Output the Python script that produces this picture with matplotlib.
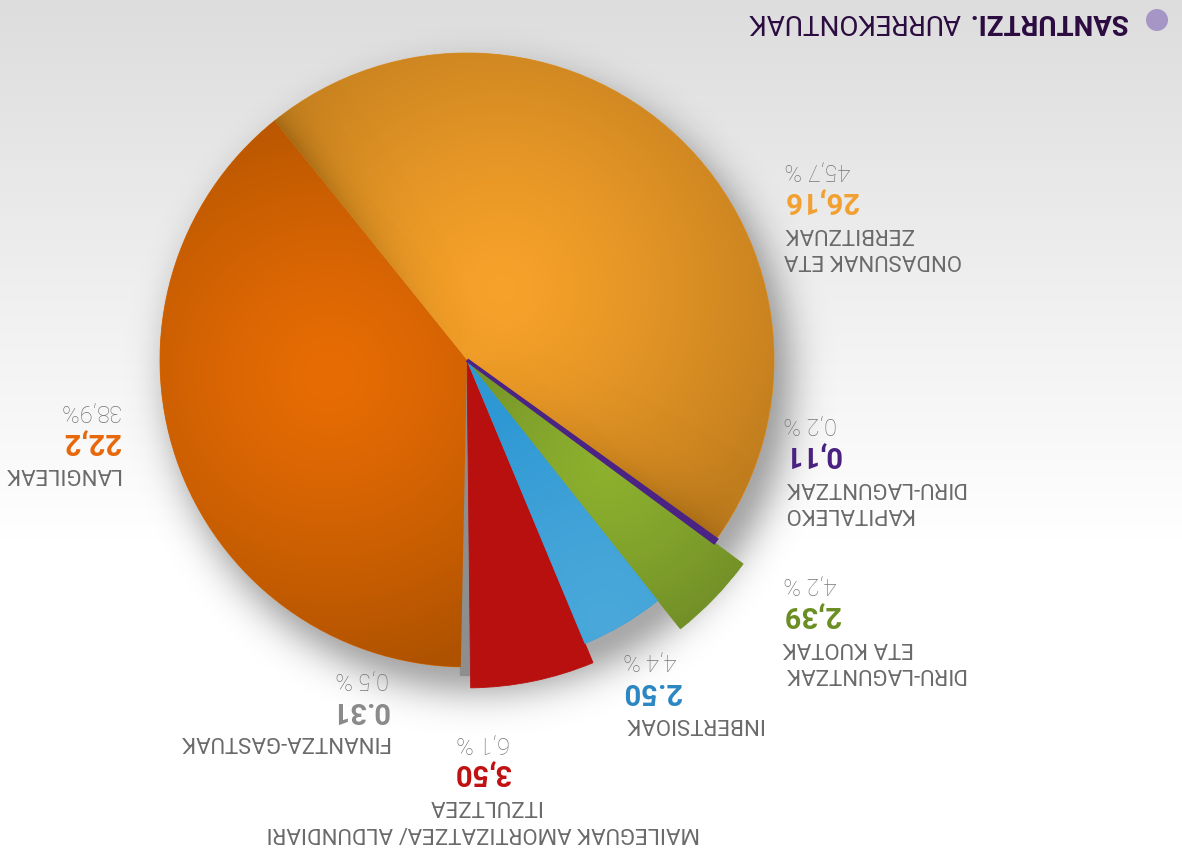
import numpy as np
import matplotlib
matplotlib.use("Agg")
import matplotlib.pyplot as plt
from matplotlib.patches import Circle

# ---------------- data ----------------
categories = ["LANGILEAK",
              "FINANTZA-GASTUAK",
              "MAILEGUAK AMORTIZATZEA/ ALDUNDIARI\nITZULTZEA",
              "INBERTSIOAK",
              "DIRU-LAGUNTZAK\nETA KUOTAK",
              "KAPITALEKO\nDIRU-LAGUNTZAK",
              "ONDASUNAK ETA\nZERBITZUAK"]
amounts = ["22,2", "0.31", "3,50", "2.50", "2,39", "0,11", "26,16"]
percents = [38.9, 0.5, 6.1, 4.4, 4.2, 0.2, 45.7]
percent_labels = ["38,9%", "0,5 %", "6,1 %", "4,4 %", "4,2 %", "0,2 %", "45,7 %"]
title_bold = "SANTURTZI."
title_rest = "AURREKONTUAK"

# ---------------- style ----------------
W, H = 1182, 852
slice_colors = ["#DC6A06", "#8E8E8E", "#B80F0F", "#3A9FD8", "#7A9C2A", "#4A2384", "#E0922A"]
value_colors = ["#E8680A", "#8A8A8A", "#C01010", "#2A86C2", "#6A8E22", "#4A2080", "#F2A030"]
slice_radius = [1.0, 1.027, 1.068, 1.0, 1.118, 1.0, 1.0]
slice_edge_lw = [0.6, 1.2, 0.6, 0.6, 0.6, 2.6, 0.6]
label_color = "#6A6A6A"
pct_color = "#747474"
FONT = "Roboto"
START = 128.8

fig = plt.figure(figsize=(W / 100, H / 100), dpi=100)

# background gradient
ax_bg = fig.add_axes([0, 0, 1, 1])
yy = np.linspace(0, 1, 400)[:, None]
v = np.clip(221 + (255 - 221) * (yy * H / 540), 0, 255) / 255.0
bg = v[:, :, None] * np.ones((1, 4, 3))
ax_bg.imshow(bg, extent=(0, 1, 1, 0), aspect="auto", interpolation="bilinear")
ax_bg.set_xlim(0, 1)
ax_bg.set_ylim(1, 0)
ax_bg.axis("off")

# pie axes: 1 unit = 307 px, centre at image (467, 360)
R = 307.0
cx, cy = 467.0, 360.0
L = 1.6
size = 2 * L * R
ax_p = fig.add_axes([(cx - size / 2) / W, ((H - cy) - size / 2) / H, size / W, size / H])
ax_p.patch.set_alpha(0)

wedges, _ = ax_p.pie(percents, colors=slice_colors, startangle=START, counterclock=True,
                     radius=1, center=(0, 0),
                     wedgeprops=dict(linewidth=0.6, antialiased=True))
for w, r, c, lw in zip(wedges, slice_radius, slice_colors, slice_edge_lw):
    w.set_radius(r)
    w.set_edgecolor(c)
    w.set_linewidth(lw)
wedges[5].set_zorder(2.5)

n = 700
g = np.linspace(-L, L, n)
X, Y = np.meshgrid(g, g)
RR = np.hypot(X, Y)

# drop shadow
d = np.hypot(X - 0.04, Y + 0.07)
alpha = 0.34 * np.exp(-(np.clip(d - 0.93, 0, None) / 0.11) ** 2)
sh = np.zeros((n, n, 4))
sh[..., 3] = alpha
ax_p.imshow(sh, extent=(-L, L, -L, L), origin="lower", zorder=0.5, interpolation="bilinear")


def hexrgb(h):
    h = h.lstrip("#")
    return np.array([int(h[i:i + 2], 16) for i in (0, 2, 4)]) / 255.0


def shade(w, light, dark, focal, scale, p=1.3):
    dd = np.hypot(X - focal[0], Y - focal[1]) / scale
    t = np.clip(dd, 0, 1) ** p
    img = hexrgb(light)[None, None, :] * (1 - t)[..., None] + hexrgb(dark)[None, None, :] * t[..., None]
    im = ax_p.imshow(img, extent=(-L, L, -L, L), origin="lower", zorder=1.5, interpolation="bilinear")
    im.set_clip_path(w)


def edge_band(w, edge_deg, color, strength, width):
    # darker band inside wedge w along its straight edge at angle edge_deg
    e = np.radians(edge_deg)
    dist = np.abs(-np.sin(e) * X + np.cos(e) * Y)
    a = strength * np.exp(-dist / width) * np.clip(RR / 0.9, 0, 1) ** 1.5
    img = np.zeros((n, n, 4))
    img[..., :3] = hexrgb(color)
    img[..., 3] = a
    im = ax_p.imshow(img, extent=(-L, L, -L, L), origin="lower", zorder=1.7, interpolation="bilinear")
    im.set_clip_path(w)


shade(wedges[0], "#E86C04", "#AE5200", (-0.45, -0.05), 1.0)
shade(wedges[6], "#F7A22A", "#C27E1E", (0.11, 0.23), 1.0)
shade(wedges[4], "#8DB02E", "#6A8626", (0.45, -0.35), 0.7)
shade(wedges[3], "#4AA8DA", "#2E98D4", (0.45, -0.85), 0.75)
edge_band(wedges[6], START, "#7A4E0A", 0.45, 0.05)
edge_band(wedges[6], wedges[6].theta1, "#7A4E0A", 0.35, 0.06)

ax_p.set_xlim(-L, L)
ax_p.set_ylim(-L, L)
ax_p.set_aspect("equal")
ax_p.axis("off")

# text axes in image pixel coordinates (y down)
ax_t = fig.add_axes([0, 0, 1, 1])
ax_t.set_xlim(0, W)
ax_t.set_ylim(H, 0)
ax_t.axis("off")
ax_t.patch.set_alpha(0)

# label block anchors (first label line centre), image coords
anchors = [(120, 474, "right"), (389, 742, "right"), (483, 832, "center"),
           (623, 723, "left"), (783, 674, "left"), (783, 514, "left"), (784, 260, "left")]


def put(x, y, s, ha, **kw):
    ax_t.text(x, y, s, rotation=180, ha=ha, va="center", family=FONT, **kw)


for i, (cat, amt, pl) in enumerate(zip(categories, amounts, percent_labels)):
    x0, y0, ha = anchors[i]
    lines = cat.split("\n")
    y = y0
    for k, ln in enumerate(lines):
        y = y0 - 27 * k
        put(x0, y, ln, ha, fontsize=16, color=label_color)
    yv = y - 32
    put(x0, yv, amt, ha, fontsize=21, fontweight="bold", color=value_colors[i])
    put(x0, yv - 31, pl, ha, fontsize=17, fontweight="light", color=pct_color)

# title
t1 = ax_t.text(1127, 21, title_bold, rotation=180, ha="right", va="center", family=FONT,
               fontsize=20, fontweight="bold", color="#2B0B40")
fig.canvas.draw()
bb = t1.get_window_extent()
x_left = ax_t.transData.inverted().transform((bb.x0, bb.y0))[0]
ax_t.text(x_left - 8, 21, title_rest, rotation=180, ha="right", va="center", family=FONT,
          fontsize=20, color="#2B0B40")
ax_t.add_patch(Circle((1157, 20), 11, color="#A696C6", lw=0))

fig.savefig("out.png", dpi=100)
